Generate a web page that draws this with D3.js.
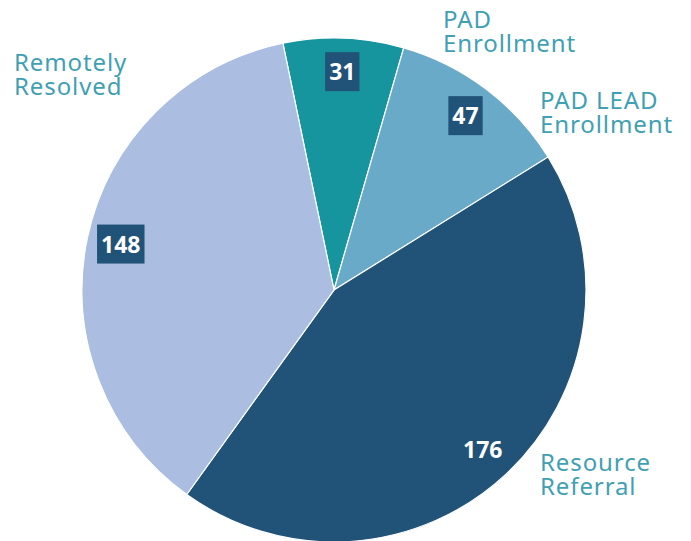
<!DOCTYPE html>
<html>
<head>
<meta charset="utf-8">
<script src="https://cdn.jsdelivr.net/npm/d3@7"></script>
<style>
  body { margin: 0; background: #fff; }
  svg { display: block; }
</style>
</head>
<body>
<div id="chart"></div>
<script>
// data
const categories = ["PAD Enrollment", "PAD LEAD Enrollment", "Resource Referral", "Remotely Resolved"];
const values = [31, 47, 176, 148];
const colors = ["#16959f", "#6aaac9", "#215278", "#abbde0"];
// label lines for the outside category names
const labelLines = [["PAD", "Enrollment"], ["PAD LEAD", "Enrollment"], ["Resource", "Referral"], ["Remotely", "Resolved"]];

const width = 691, height = 541;
const cx = 334, cy = 290, radius = 252;
const startDeg = -11.7;

// where each category name sits (layout, not data)
const namePos = [[443, 28], [540, 109], [540, 471], [14, 71]];

const svg = d3.select("#chart").append("svg")
    .attr("width", width)
    .attr("height", height);

const g = svg.append("g")
    .attr("transform", "translate(" + cx + "," + cy + ")");

const pie = d3.pie()
    .sort(null)
    .value(d => d.value)
    .startAngle(startDeg * Math.PI / 180)
    .endAngle((startDeg + 360) * Math.PI / 180);

const data = categories.map((c, i) => ({ name: c, value: values[i], color: colors[i] }));
const arcs = pie(data);

const arc = d3.arc().innerRadius(0).outerRadius(radius);
const labelArc = d3.arc().innerRadius(218).outerRadius(218);

g.selectAll("path.slice")
    .data(arcs)
    .enter().append("path")
    .attr("class", "slice")
    .attr("d", arc)
    .attr("fill", d => d.data.color)
    .attr("stroke", "#fff")
    .attr("stroke-width", 1.2);

// value labels with dark boxes
const vl = g.selectAll("g.val")
    .data(arcs)
    .enter().append("g")
    .attr("class", "val")
    .attr("transform", d => "translate(" + labelArc.centroid(d) + ")");

vl.append("text")
    .attr("text-anchor", "middle")
    .attr("dy", "0.36em")
    .attr("font-family", "'Noto Sans', sans-serif")
    .attr("font-weight", "bold")
    .attr("font-size", 23)
    .attr("fill", "#fff")
    .text(d => d.data.value);

vl.each(function () {
    const t = d3.select(this).select("text");
    const bb = t.node().getBBox();
    d3.select(this).insert("rect", "text")
        .attr("x", bb.x - 4)
        .attr("y", -20)
        .attr("width", bb.width + 8)
        .attr("height", 39)
        .attr("fill", "#215278");
});

// category names
svg.selectAll("text.name")
    .data(labelLines)
    .enter().append("text")
    .attr("class", "name")
    .attr("x", (d, i) => namePos[i][0])
    .attr("y", (d, i) => namePos[i][1])
    .attr("font-family", "'Noto Sans', sans-serif")
    .attr("font-size", 24)
    .attr("letter-spacing", 0.9)
    .attr("fill", "#3fa0b4")
    .each(function (d, i) {
        d3.select(this).selectAll("tspan")
            .data(d)
            .enter().append("tspan")
            .attr("x", namePos[i][0])
            .attr("dy", (l, j) => j === 0 ? 0 : 23.5)
            .text(l => l);
    });
</script>
</body>
</html>
